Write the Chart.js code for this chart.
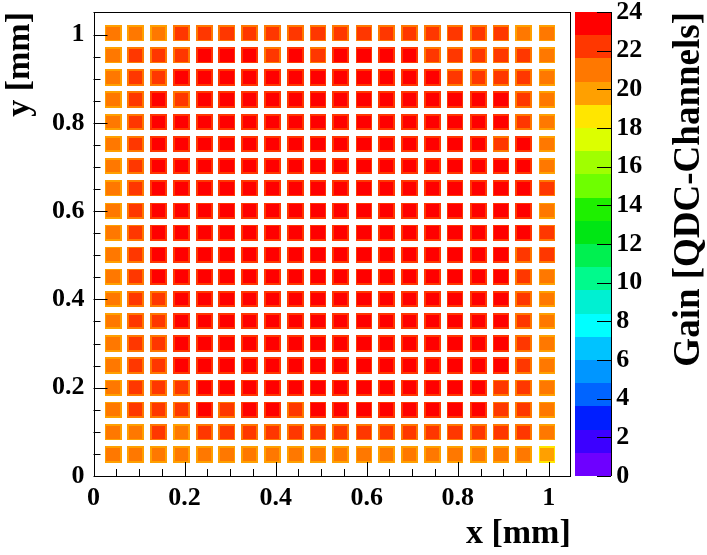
<!DOCTYPE html>
<html>
<head>
<meta charset="utf-8">
<script src="https://cdn.jsdelivr.net/npm/chart.js@4.4.1/dist/chart.umd.min.js"></script>
<style>
html,body{margin:0;padding:0;background:#fff;}
#c{display:block;}
</style>
</head>
<body>
<canvas id="c" width="707" height="555"></canvas>
<script>
// ---------------- data ----------------
const xCenters = [0.043,0.093,0.143,0.193,0.243,0.293,0.343,0.393,0.443,0.493,0.543,0.594,0.644,0.694,0.744,0.794,0.845,0.895,0.945,0.996];
const yCenters = [1.003,0.953,0.903,0.853,0.802,0.752,0.702,0.652,0.601,0.551,0.501,0.451,0.401,0.351,0.300,0.250,0.200,0.150,0.099,0.049];

// gain in the centre of every cell, rows from top (y high) to bottom
const gainCore = [
 [21.0,21.2,20.9,22.1,22.3,22.2,22.0,22.4,22.1,22.3,22.2,22.5,22.1,22.3,22.2,21.9,22.1,22.0,21.1,20.8],
 [21.1,22.2,22.4,22.3,23.2,23.1,23.3,22.6,23.2,22.5,23.3,23.1,23.0,23.4,22.6,22.4,22.3,22.5,22.1,21.2],
 [21.2,22.5,22.6,23.2,23.4,23.5,23.3,23.4,23.5,23.3,23.4,23.5,23.3,23.6,23.4,22.7,22.6,22.7,22.3,21.1],
 [21.2,22.3,23.1,22.7,23.4,23.6,23.5,23.4,23.5,23.4,23.6,23.5,23.4,23.6,23.5,23.2,23.3,23.1,22.4,21.0],
 [21.3,22.5,23.2,23.3,23.5,23.6,23.5,23.4,23.6,23.5,23.6,23.5,23.7,23.5,23.6,23.4,23.3,23.2,22.6,21.1],
 [21.0,22.6,23.2,23.3,23.4,23.5,23.6,23.4,23.5,23.6,23.5,23.6,23.5,23.4,23.6,23.3,23.2,22.7,23.0,21.1],
 [21.2,22.6,23.3,23.4,23.5,23.6,23.5,23.6,23.4,23.5,23.5,23.4,23.6,23.5,23.6,23.5,23.3,23.2,23.0,21.2],
 [21.1,22.5,23.2,23.4,23.3,23.5,23.6,23.5,23.6,23.4,23.6,23.5,23.4,23.6,23.5,23.4,23.3,23.1,23.0,21.7],
 [21.3,22.4,23.3,23.4,23.3,23.5,23.6,23.5,23.6,23.5,23.4,23.5,23.6,23.4,23.5,23.4,23.3,23.2,23.0,21.2],
 [21.2,22.5,23.0,23.2,23.4,23.5,23.6,23.5,23.6,23.4,23.5,23.6,23.5,23.4,23.6,23.4,23.3,23.1,22.9,21.8],
 [21.1,22.4,23.2,23.3,23.4,23.5,23.4,23.6,23.5,23.6,23.5,23.6,23.4,23.5,23.6,23.4,23.3,22.9,22.4,21.8],
 [21.2,22.3,22.9,23.3,23.4,23.5,23.4,23.6,23.5,23.6,23.5,23.4,23.6,23.5,23.4,23.5,23.3,22.9,22.3,21.3],
 [21.1,22.3,22.6,23.3,23.4,23.5,23.4,23.5,23.6,23.5,23.4,23.6,23.5,23.4,23.5,23.3,23.2,22.9,22.2,21.2],
 [21.2,22.4,22.7,23.2,23.3,23.5,23.4,23.5,23.6,23.5,23.4,23.5,23.6,23.5,23.4,23.3,23.2,23.0,22.2,21.3],
 [21.2,22.3,22.6,23.1,23.3,23.4,23.5,23.4,23.5,23.6,23.4,23.5,23.6,23.4,23.5,23.3,23.2,22.9,22.2,21.2],
 [21.1,22.3,22.5,22.9,23.2,23.4,23.3,23.5,23.4,23.5,23.4,23.5,23.4,23.6,23.4,23.3,23.1,22.9,22.2,21.1],
 [21.1,22.2,22.4,22.7,23.1,23.3,23.2,23.4,23.3,23.4,23.3,23.4,23.3,23.4,23.3,23.2,23.0,22.7,22.2,21.1],
 [21.2,22.2,22.3,22.2,22.8,22.6,22.9,22.9,22.6,22.9,23.0,23.1,22.9,23.0,23.1,23.0,22.9,22.6,22.2,21.0],
 [21.0,21.5,22.1,21.5,22.2,22.1,22.2,22.3,22.1,22.2,22.1,22.2,22.0,22.5,22.5,22.1,22.2,22.0,22.1,20.9],
 [20.8,20.9,21.1,20.8,21.0,20.9,21.2,20.8,20.9,21.0,21.1,20.8,21.2,21.3,21.2,21.3,21.2,20.9,21.1,20.2]
];

// gain on the rim of every cell, same layout
const gainRim = [
 [19.7,19.9,19.8,21.0,21.1,20.9,21.0,21.2,20.9,21.1,21.0,21.2,20.9,21.1,21.0,20.8,21.0,20.9,19.9,19.6],
 [19.8,21.0,21.1,21.0,22.2,22.1,22.3,21.2,22.1,21.1,22.2,22.0,22.1,22.3,21.1,21.0,20.9,21.1,20.9,19.9],
 [19.8,21.1,21.2,22.1,22.2,22.3,22.1,22.2,22.3,22.1,22.2,22.3,22.1,22.4,22.2,21.2,21.1,21.2,21.0,19.8],
 [19.9,21.0,22.1,21.2,22.2,22.4,22.3,22.2,22.3,22.2,22.4,22.3,22.2,22.4,22.3,22.0,22.1,22.0,21.0,19.7],
 [19.9,21.1,22.0,22.1,22.3,22.4,22.3,22.2,22.4,22.3,22.4,22.3,22.5,22.3,22.4,22.2,22.1,22.0,21.1,19.8],
 [19.7,21.2,22.0,22.1,22.2,22.3,22.4,22.2,22.3,22.4,22.3,22.4,22.3,22.2,22.4,22.1,22.0,21.2,21.9,19.8],
 [19.9,21.2,22.1,22.2,22.3,22.4,22.3,22.4,22.2,22.3,22.3,22.2,22.4,22.3,22.4,22.3,22.1,22.0,21.9,19.9],
 [19.8,21.1,22.0,22.2,22.1,22.3,22.4,22.3,22.4,22.2,22.4,22.3,22.2,22.4,22.3,22.2,22.1,22.0,21.9,20.6],
 [19.9,21.0,22.1,22.2,22.1,22.3,22.4,22.3,22.4,22.3,22.2,22.3,22.4,22.2,22.3,22.2,22.1,22.0,21.9,19.9],
 [19.8,21.1,21.9,22.0,22.2,22.3,22.4,22.3,22.4,22.2,22.3,22.4,22.3,22.2,22.4,22.2,22.1,22.0,21.8,20.6],
 [19.8,21.0,22.0,22.1,22.2,22.3,22.2,22.4,22.3,22.4,22.3,22.4,22.2,22.3,22.4,22.2,22.1,21.8,21.0,20.6],
 [19.9,21.0,21.8,22.1,22.2,22.3,22.2,22.4,22.3,22.4,22.3,22.2,22.4,22.3,22.2,22.3,22.1,21.8,21.0,19.9],
 [19.8,21.0,21.1,22.1,22.2,22.3,22.2,22.3,22.4,22.3,22.2,22.4,22.3,22.2,22.3,22.1,22.0,21.8,21.0,19.8],
 [19.9,21.1,21.2,22.0,22.1,22.3,22.2,22.3,22.4,22.3,22.2,22.3,22.4,22.3,22.2,22.1,22.0,21.9,21.0,19.9],
 [19.9,21.0,21.1,21.9,22.1,22.2,22.3,22.2,22.3,22.4,22.2,22.3,22.4,22.2,22.3,22.1,22.0,21.8,21.0,19.8],
 [19.8,21.0,21.1,21.8,22.0,22.2,22.1,22.3,22.2,22.3,22.2,22.3,22.2,22.4,22.2,22.1,21.9,21.8,21.0,19.7],
 [19.8,20.9,21.0,21.2,21.9,22.1,22.0,22.2,22.1,22.2,22.1,22.2,22.1,22.2,22.1,22.0,21.8,21.2,21.0,19.7],
 [19.9,20.9,21.0,20.9,21.7,21.2,21.7,21.8,21.1,21.7,21.8,21.9,21.7,21.8,21.9,21.8,21.7,21.2,20.9,19.7],
 [19.7,20.1,20.9,20.2,21.0,20.9,21.0,21.1,20.9,21.0,20.9,21.0,20.8,21.2,21.2,20.9,21.0,20.8,20.9,19.6],
 [19.6,19.7,19.9,19.6,19.8,19.7,20.0,19.6,19.7,19.8,19.9,19.6,20.0,20.1,20.0,20.1,20.0,19.7,19.9,18.9]
];

const contourLevels = [0,1.2,2.4,3.6,4.8,6,7.2,8.4,9.6,10.8,12,13.2,14.4,15.6,16.8,18,19.2,20.4,21.6,22.8,24];
const bandColors = ['#6e00ff','#3c00ff','#001eff','#0064ff','#0096ff','#00c3ff','#00ffff','#00f0d2','#00fa8c','#00f050',
                    '#00e614','#1ef000','#6eff00','#a0ff00','#dcff00','#ffe600','#ffa000','#ff7800','#ff3700','#ff0000'];

const xTicks = [0,0.2,0.4,0.6,0.8,1];
const yTicks = [0,0.2,0.4,0.6,0.8,1];
const gainTicks = [0,2,4,6,8,10,12,14,16,18,20,22,24];

const xTitle = 'x [mm]';
const yTitle = 'y [mm]';
const zTitle = 'Gain [QDC-Channels]';

// ---------------- rendering ----------------
const FONT = '"Liberation Serif", "Times New Roman", serif';
const OUTER = 0.037, INNER = 0.029, MINOR = 0.05;

function colorFor(v){
  for (let k = 0; k < bandColors.length; k++) {
    if (v < contourLevels[k+1]) return bandColors[k];
  }
  return bandColors[bandColors.length-1];
}

const points = [];
for (let j = 0; j < yCenters.length; j++) {
  for (let i = 0; i < xCenters.length; i++) {
    points.push({x: xCenters[i], y: yCenters[j], core: gainCore[j][i], rim: gainRim[j][i]});
  }
}

function setTicks(list){ return s => { s.ticks = list.map(v => ({value: v})); }; }
const tickFont = {family: FONT, weight: 'bold', size: 26};
function noPad(s){ s.paddingTop = 0; s.paddingBottom = 0; s.paddingLeft = 0; s.paddingRight = 0; }

const heatPlugin = {
  id: 'heat',
  beforeDatasetsDraw(chart){
    const {ctx, chartArea: a, scales: {x, y}} = chart;
    ctx.save();
    ctx.beginPath(); ctx.rect(a.left, a.top, a.right - a.left, a.bottom - a.top); ctx.clip();
    const box = (cx, cy, s, col) => {
      const x0 = Math.round(x.getPixelForValue(cx - s/2)), x1 = Math.round(x.getPixelForValue(cx + s/2));
      const y0 = Math.round(y.getPixelForValue(cy + s/2)), y1 = Math.round(y.getPixelForValue(cy - s/2));
      ctx.fillStyle = col; ctx.fillRect(x0, y0, x1 - x0, y1 - y0);
    };
    for (const p of chart.data.datasets[0].data) {
      box(p.x, p.y, OUTER, colorFor(p.rim));
      box(p.x, p.y, INNER, colorFor(p.core));
    }
    ctx.restore();
  },
  afterDraw(chart){
    const {ctx, chartArea: a, scales: {x, y, z}} = chart;
    ctx.save();
    // frame
    ctx.strokeStyle = '#000'; ctx.lineWidth = 1;
    ctx.strokeRect(Math.round(a.left)+0.5, Math.round(a.top)+0.5, Math.round(a.right-a.left)-1, Math.round(a.bottom-a.top));
    // ticks inside the frame
    ctx.beginPath();
    for (let k = 0; k * MINOR <= x.max + 1e-9; k++) {
      const px = Math.round(x.getPixelForValue(k * MINOR)) + 0.5;
      const len = (k % 4 === 0) ? 14 : 7;
      ctx.moveTo(px, a.bottom); ctx.lineTo(px, a.bottom - len);
    }
    for (let k = 0; k * MINOR <= y.max + 1e-9; k++) {
      const py = Math.round(y.getPixelForValue(k * MINOR)) + 0.5;
      const len = (k % 4 === 0) ? 14 : 7;
      ctx.moveTo(a.left, py); ctx.lineTo(a.left + len, py);
    }
    ctx.stroke();
    // colour bar
    const bx0 = Math.round(a.right) + 4, bx1 = bx0 + 36;
    for (let k = 0; k < bandColors.length; k++) {
      const yt = z.getPixelForValue(contourLevels[k+1]), yb = z.getPixelForValue(contourLevels[k]);
      ctx.fillStyle = bandColors[k];
      ctx.fillRect(bx0, Math.round(yt), bx1 - bx0, Math.round(yb) - Math.round(yt));
    }
    ctx.beginPath();
    ctx.moveTo(bx1 + 0.5, z.top); ctx.lineTo(bx1 + 0.5, z.bottom);
    for (const t of z.ticks) {
      const py = Math.round(z.getPixelForValue(t.value)) + 0.5;
      ctx.moveTo(bx1, py); ctx.lineTo(bx1 - 14, py);
    }
    ctx.stroke();
    // colour bar title
    ctx.translate(689, a.top);
    ctx.rotate(-Math.PI/2);
    ctx.fillStyle = '#000';
    ctx.font = 'bold 37px ' + FONT;
    ctx.textAlign = 'right'; ctx.textBaseline = 'middle';
    ctx.fillText(zTitle, 0, 0);
    ctx.restore();
  }
};

new Chart(document.getElementById('c'), {
  type: 'scatter',
  data: {datasets: [{data: points, pointRadius: 0, pointHoverRadius: 0}]},
  options: {
    responsive: false, animation: false, events: [],
    layout: {padding: {top: 12, left: 0, right: 0, bottom: 0}},
    plugins: {legend: {display: false}, tooltip: {enabled: false}},
    scales: {
      x: {
        type: 'linear', position: 'bottom', min: 0, max: 1.048,
        afterBuildTicks: setTicks(xTicks),
        ticks: {font: tickFont, color: '#000', padding: 7, maxRotation: 0, autoSkip: false,
                callback: v => String(Math.round(v * 100) / 100)},
        grid: {display: false, drawTicks: false}, border: {display: false},
        title: {display: true, text: xTitle, align: 'end', color: '#000',
                font: {family: FONT, weight: 'bold', size: 34}, padding: {top: 0, bottom: 0}},
        afterFit: s => { s.height = 79; noPad(s); }
      },
      y: {
        type: 'linear', position: 'left', min: 0, max: 1.051,
        afterBuildTicks: setTicks(yTicks),
        ticks: {font: tickFont, color: '#000', padding: 9, autoSkip: false,
                callback: v => String(Math.round(v * 100) / 100)},
        grid: {display: false, drawTicks: false}, border: {display: false},
        title: {display: true, text: yTitle, align: 'end', color: '#000',
                font: {family: FONT, weight: 'bold', size: 34}, padding: {top: 0, bottom: 0}},
        afterFit: s => { s.width = 93.5; noPad(s); }
      },
      z: {
        type: 'linear', axis: 'y', position: 'right', min: 0, max: 24,
        afterBuildTicks: setTicks(gainTicks),
        ticks: {font: tickFont, color: '#000', padding: 45.5, autoSkip: false},
        grid: {display: false, drawTicks: false}, border: {display: false},
        afterFit: s => { s.width = 136.3; noPad(s); }
      }
    }
  },
  plugins: [heatPlugin]
});
</script>
</body>
</html>
